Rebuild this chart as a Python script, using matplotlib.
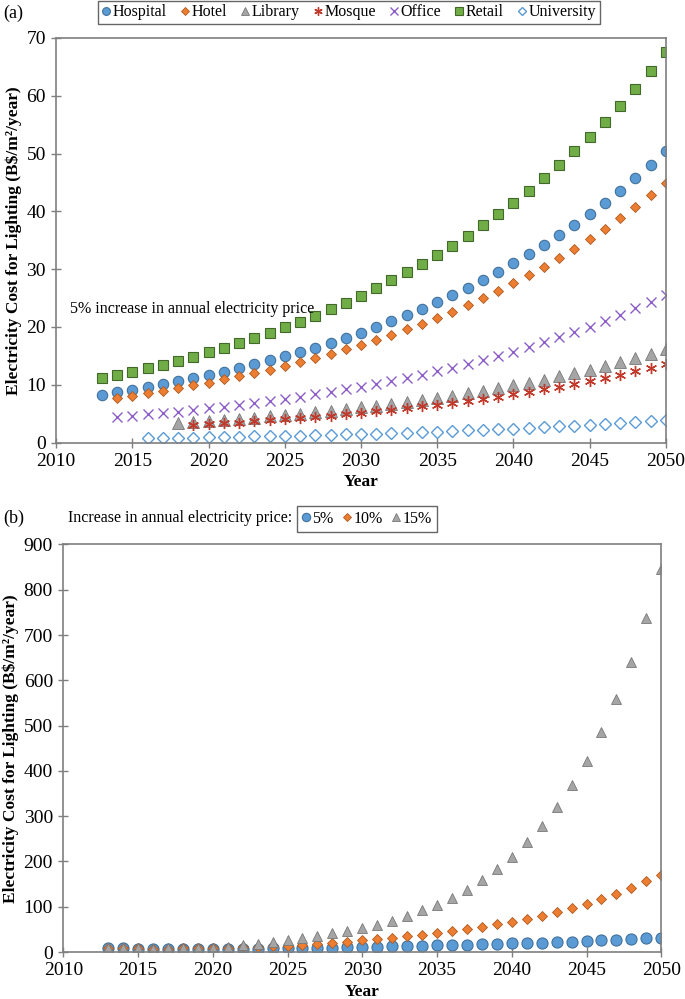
import numpy as np
import matplotlib
matplotlib.use("Agg")
import matplotlib.pyplot as plt

plt.rcParams['font.family'] = ['Liberation Serif', 'DejaVu Serif']

# panel (a) - 5% annual increase, by building type
years = list(range(2013, 2051))
hospital = [8.30, 8.72, 9.15, 9.61, 10.09, 10.59, 11.12, 11.68, 12.26, 12.88, 13.52, 14.20, 14.91,
            15.65, 16.43, 17.25, 18.12, 19.02, 19.97, 20.97, 22.02, 23.12, 24.28, 25.49, 26.77,
            28.11, 29.51, 30.99, 32.54, 34.16, 35.87, 37.67, 39.55, 41.53, 43.60, 45.78, 48.07, 50.48]
retail = [11.10, 11.66, 12.24, 12.85, 13.49, 14.17, 14.88, 15.62, 16.40, 17.22, 18.08, 18.98, 19.93,
          20.93, 21.98, 23.08, 24.23, 25.44, 26.71, 28.05, 29.45, 30.92, 32.47, 34.09, 35.80,
          37.59, 39.47, 41.44, 43.51, 45.69, 47.97, 50.37, 52.89, 55.54, 58.31, 61.23, 64.29, 67.50]
hotel_years = list(range(2014, 2051))
hotel = [7.75, 8.14, 8.54, 8.97, 9.42, 9.89, 10.39, 10.91, 11.45, 12.02, 12.62, 13.25, 13.92,
         14.61, 15.34, 16.11, 16.92, 17.76, 18.65, 19.58, 20.56, 21.59, 22.67, 23.80, 24.99,
         26.24, 27.56, 28.93, 30.38, 31.90, 33.49, 35.17, 36.93, 38.77, 40.71, 42.75, 44.89]
office_years = list(range(2014, 2051))
office = [4.42, 4.64, 4.87, 5.12, 5.37, 5.64, 5.92, 6.22, 6.53, 6.86, 7.20, 7.56, 7.94, 8.33,
          8.75, 9.19, 9.65, 10.13, 10.64, 11.17, 11.73, 12.31, 12.93, 13.58, 14.25, 14.97,
          15.72, 16.50, 17.33, 18.19, 19.10, 20.06, 21.06, 22.11, 23.22, 24.38, 25.60]
library_years = list(range(2018, 2051))
library = [3.38, 3.55, 3.73, 3.91, 4.11, 4.31, 4.53, 4.76, 4.99, 5.24, 5.51, 5.78, 6.07, 6.37,
           6.69, 7.03, 7.38, 7.75, 8.13, 8.54, 8.97, 9.42, 9.89, 10.38, 10.90, 11.45, 12.02,
           12.62, 13.25, 13.91, 14.61, 15.34, 16.11]
mosque_years = list(range(2019, 2051))
mosque = [3.00, 3.15, 3.31, 3.47, 3.65, 3.83, 4.02, 4.22, 4.43, 4.65, 4.89, 5.13, 5.39, 5.66,
          5.94, 6.24, 6.55, 6.88, 7.22, 7.58, 7.96, 8.36, 8.78, 9.21, 9.68, 10.16, 10.67,
          11.20, 11.76, 12.35, 12.97, 13.61]
univ_years = list(range(2016, 2051))
university = [0.75, 0.79, 0.83, 0.87, 0.91, 0.96, 1.01, 1.06, 1.11, 1.16, 1.22, 1.28, 1.35,
              1.41, 1.48, 1.56, 1.64, 1.72, 1.80, 1.90, 1.99, 2.09, 2.19, 2.30, 2.42, 2.54,
              2.67, 2.80, 2.94, 3.09, 3.24, 3.40, 3.57, 3.75, 3.94]

# panel (b) - different annual increases
inc5 = [8.3, 8.0, 7.7, 7.5, 7.3, 7.1, 7.0, 7.0, 7.1, 7.4, 7.7, 8.0, 8.4, 8.8, 9.3, 9.9, 10.5,
        11.2, 11.9, 12.6, 13.2, 13.8, 14.5, 15.3, 16.1, 17.0, 17.9, 18.9, 19.9, 20.9, 22.0,
        23.2, 24.4, 25.7, 27.0, 28.5, 30.0, 31.6]
inc10 = [8.3, 8.0, 7.9, 7.8, 7.8, 7.9, 8.2, 8.6, 9.3, 10.2, 11.2, 12.4, 14.0, 15.8, 17.6, 19.8,
         22.5, 26.0, 28.8, 31.8, 34.9, 38.0, 41.5, 46.0, 50.5, 55.5, 61.0, 67.0, 73.5, 80.5,
         88.5, 97.5, 107.0, 117.5, 129.0, 142.0, 156.0, 171.0]
inc15 = [8.5, 8.0, 8.0, 7.8, 8.0, 8.3, 8.8, 10.0, 12.0, 15.0, 18.5, 22.0, 26.0, 30.0, 35.5,
         41.0, 46.5, 52.5, 60.0, 69.0, 80.0, 92.0, 104.0, 119.0, 138.0, 158.0, 183.0, 210.0,
         242.0, 278.0, 320.0, 368.0, 422.0, 486.0, 558.0, 641.0, 737.0, 845.0]

BLUE, BLUE_E = '#5B9BD5', '#41719C'
ORANGE, ORANGE_E = '#ED7D31', '#AE5A21'
GRAY, GRAY_E = '#A5A5A5', '#787878'
RED = '#C0392B'
PURPLE = '#8E5EC8'
GREEN, GREEN_E = '#70AD47', '#43682B'
SPINE = '#7F7F7F'

fig = plt.figure(figsize=(6.85, 9.99), dpi=100)


def style_axes(ax, ymax, ystep):
    ax.set_xlim(2010, 2050)
    ax.set_ylim(0, ymax)
    ax.set_xticks(range(2010, 2051, 5))
    ax.set_yticks(range(0, ymax + 1, ystep))
    for s in ax.spines.values():
        s.set_color(SPINE)
        s.set_linewidth(1.2)
    ax.tick_params(direction='inout', length=7, width=1, color=SPINE,
                   labelsize=14, pad=4)
    ax.set_xlabel('Year', fontsize=12.5, fontweight='bold', labelpad=3)
    ax.set_ylabel('Electricity Cost for Lighting (B\\$/m²/year)', fontsize=12.5,
                  fontweight='bold', labelpad=3)


# ---- panel (a)
ax1 = fig.add_axes([0.082, 0.557, 0.89, 0.405])
ax1.plot(years, hospital, 'o', ms=7.5, mfc=BLUE, mec=BLUE_E, mew=0.8, label='Hospital')
ax1.plot(hotel_years, hotel, 'D', ms=5.5, mfc=ORANGE, mec=ORANGE_E, mew=0.6, label='Hotel')
ax1.plot(library_years, library, '^', ms=8, mfc=GRAY, mec=GRAY_E, mew=0.6, label='Library')
ax1.plot(mosque_years, mosque, ls='none', marker=(6, 2, 0), ms=8, mec=RED, mew=1.0, label='Mosque')
ax1.plot(office_years, office, 'x', ms=7.5, mec=PURPLE, mew=1.0, label='Office')
ax1.plot(years, retail, 's', ms=7, mfc=GREEN, mec=GREEN_E, mew=0.8, label='Retail')
ax1.plot(univ_years, university, 'D', ms=6, mfc='white', mec=BLUE, mew=1.0, label='University')
style_axes(ax1, 70, 10)
ax1.text(2010.9, 22.5, '5% increase in annual electricity price', fontsize=11.5)
fig.legend(*ax1.get_legend_handles_labels(), loc='center', bbox_to_anchor=(349 / 685, 1 - 12.5 / 999),
           ncol=7, fontsize=11.5, frameon=True, fancybox=False, edgecolor='#404040',
           handlelength=0.5, handletextpad=0.15, columnspacing=0.9, borderpad=0.25,
           markerscale=0.75)
fig.text(0.005, 0.987, '(a)', fontsize=13, va='center')

# ---- panel (b)
ax2 = fig.add_axes([0.0924, 0.047, 0.873, 0.408])
ax2.plot(years, inc5, 'o', ms=8, mfc=BLUE, mec=BLUE_E, mew=0.8, label='5%')
ax2.plot(years, inc10, 'D', ms=5.5, mfc=ORANGE, mec=ORANGE_E, mew=0.6, label='10%')
ax2.plot(years, inc15, '^', ms=7, mfc=GRAY, mec=GRAY_E, mew=0.6, label='15%')
style_axes(ax2, 900, 100)
fig.legend(*ax2.get_legend_handles_labels(), loc='center left',
           bbox_to_anchor=(297 / 685, 1 - 519 / 999), borderaxespad=0, ncol=3, fontsize=11.5,
           frameon=True, fancybox=False, edgecolor='#404040', handlelength=0.5,
           handletextpad=0.15, columnspacing=0.6, borderpad=0.3, markerscale=0.75)
fig.text(0.005, 0.481, '(b)', fontsize=13, va='center')
fig.text(0.099, 0.481, 'Increase in annual electricity price:', fontsize=11.5, va='center')

fig.savefig('out.png', dpi=100)
